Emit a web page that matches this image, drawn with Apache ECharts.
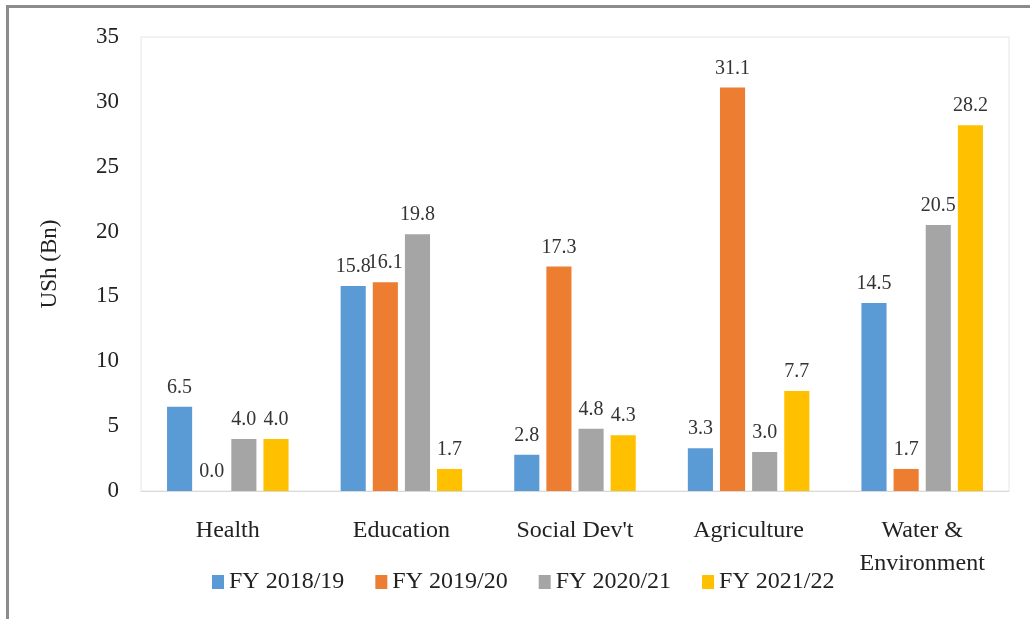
<!DOCTYPE html>
<html>
<head>
<meta charset="utf-8">
<script src="https://cdn.jsdelivr.net/npm/echarts@6/dist/echarts.min.js"></script>
<style>
  html, body { margin: 0; padding: 0; background: #fff; }
  #frame { position: absolute; left: 6px; top: 5px; width: 1024px; height: 614px;
           border-top: 3px solid #8c8c8c; border-left: 3px solid #8c8c8c; }
  #chart { position: absolute; left: 0; top: 0; width: 1030px; height: 619px; }
</style>
</head>
<body>
<div id="frame"></div>
<div id="chart"></div>
<script>
// 数据
const categories = ['Health', 'Education', "Social Dev't", 'Agriculture', 'Water &\nEnvironment']
const seriesNames = ['FY 2018/19', 'FY 2019/20', 'FY 2020/21', 'FY 2021/22']
const fy1819 = [6.5, 15.8, 2.8, 3.3, 14.5]
const fy1920 = [0.0, 16.1, 17.3, 31.1, 1.7]
const fy2021 = [4.0, 19.8, 4.8, 3.0, 20.5]
const fy2122 = [4.0, 1.7, 4.3, 7.7, 28.2]
const colors = ['#5b9bd5', '#ed7d31', '#a5a5a5', '#ffc000']

const font = 'Liberation Serif'
let chart = echarts.init(document.getElementById('chart'))

function makeSeries(name, data, i) {
  return {
    name: name,
    type: 'bar',
    data: data,
    barGap: '28%',
    barCategoryGap: '30%',
    itemStyle: { color: colors[i] },
    label: {
      show: true,
      position: 'top',
      distance: 9,
      fontFamily: font,
      fontSize: 20,
      color: '#333',
      formatter: p => p.value.toFixed(1)
    }
  }
}

chart.setOption({
  animation: false,
  textStyle: { fontFamily: font },
  grid: { left: 141, right: 21, top: 37, bottom: 128, show: true, borderColor: '#e6e6e6', borderWidth: 1 },
  legend: {
    data: seriesNames,
    left: 207,
    top: 565,
    itemWidth: 12,
    itemHeight: 14,
    itemGap: 31,
    icon: 'rect',
    textStyle: { fontFamily: font, fontSize: 24, color: '#222' }
  },
  xAxis: {
    type: 'category',
    data: categories,
    axisLine: { lineStyle: { color: '#d9d9d9' } },
    axisTick: { show: false },
    axisLabel: { fontFamily: font, fontSize: 24, color: '#222', margin: 23, lineHeight: 33 }
  },
  yAxis: {
    type: 'value',
    min: 0,
    max: 35,
    interval: 5,
    name: 'USh (Bn)',
    nameLocation: 'middle',
    nameGap: 80,
    nameRotate: 90,
    nameTextStyle: { fontFamily: font, fontSize: 23, color: '#222' },
    splitLine: { show: false },
    axisLine: { show: false },
    axisTick: { show: false },
    axisLabel: { fontFamily: font, fontSize: 23, color: '#222', margin: 22 }
  },
  series: [
    makeSeries(seriesNames[0], fy1819, 0),
    makeSeries(seriesNames[1], fy1920, 1),
    makeSeries(seriesNames[2], fy2021, 2),
    makeSeries(seriesNames[3], fy2122, 3)
  ]
})
</script>
</body>
</html>
